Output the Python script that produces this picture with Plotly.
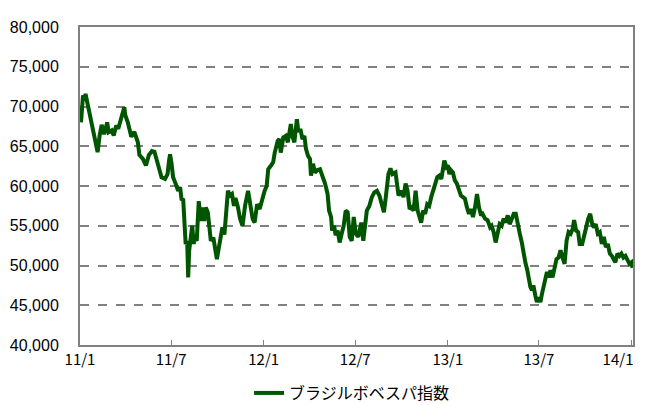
import plotly.graph_objects as go

series_name = "ブラジルボベスパ指数"

dates = [
    "2011-01-03", "2011-01-05", "2011-01-07", "2011-01-10", "2011-01-12", "2011-01-18", "2011-01-21", "2011-01-27",
    "2011-01-31", "2011-02-05", "2011-02-09", "2011-02-13", "2011-02-18", "2011-02-24", "2011-02-27", "2011-03-05",
    "2011-03-09", "2011-03-14", "2011-03-18", "2011-03-22", "2011-03-30", "2011-04-01", "2011-04-06", "2011-04-13",
    "2011-04-19", "2011-04-26", "2011-04-29", "2011-05-06", "2011-05-12", "2011-05-18", "2011-05-24", "2011-05-29",
    "2011-06-02", "2011-06-05", "2011-06-08", "2011-06-12", "2011-06-19", "2011-06-24", "2011-06-27", "2011-06-29",
    "2011-07-02", "2011-07-05", "2011-07-10", "2011-07-15", "2011-07-19", "2011-07-22", "2011-07-25", "2011-07-28",
    "2011-07-30", "2011-08-02", "2011-08-04", "2011-08-06", "2011-08-09", "2011-08-12", "2011-08-15", "2011-08-17",
    "2011-08-21", "2011-08-25", "2011-08-29", "2011-09-01", "2011-09-05", "2011-09-08", "2011-09-12", "2011-09-15",
    "2011-09-18", "2011-09-23", "2011-09-26", "2011-09-30", "2011-10-03", "2011-10-07", "2011-10-11", "2011-10-15",
    "2011-10-18", "2011-10-22", "2011-10-26", "2011-10-30", "2011-11-03", "2011-11-06", "2011-11-11", "2011-11-15",
    "2011-11-20", "2011-11-25", "2011-12-01", "2011-12-05", "2011-12-10", "2011-12-14", "2011-12-19", "2011-12-24",
    "2011-12-29", "2012-01-03", "2012-01-07", "2012-01-10", "2012-01-16", "2012-01-20", "2012-01-23", "2012-01-29",
    "2012-02-01", "2012-02-04", "2012-02-09", "2012-02-14", "2012-02-18", "2012-02-21", "2012-02-24", "2012-02-27",
    "2012-03-02", "2012-03-07", "2012-03-10", "2012-03-14", "2012-03-18", "2012-03-22", "2012-03-25", "2012-03-29",
    "2012-04-02", "2012-04-04", "2012-04-08", "2012-04-12", "2012-04-17", "2012-04-22", "2012-04-26", "2012-05-02",
    "2012-05-07", "2012-05-10", "2012-05-14", "2012-05-16", "2012-05-20", "2012-05-23", "2012-05-27", "2012-05-31",
    "2012-06-04", "2012-06-08", "2012-06-12", "2012-06-16", "2012-06-20", "2012-06-24", "2012-06-28", "2012-07-02",
    "2012-07-07", "2012-07-13", "2012-07-17", "2012-07-21", "2012-07-24", "2012-07-29", "2012-08-03", "2012-08-08",
    "2012-08-13", "2012-08-18", "2012-08-22", "2012-08-27", "2012-08-30", "2012-09-02", "2012-09-05", "2012-09-09",
    "2012-09-13", "2012-09-19", "2012-09-22", "2012-09-25", "2012-09-30", "2012-10-05", "2012-10-09", "2012-10-13",
    "2012-10-17", "2012-10-21", "2012-10-25", "2012-10-29", "2012-11-02", "2012-11-06", "2012-11-09", "2012-11-13",
    "2012-11-17", "2012-11-21", "2012-11-25", "2012-11-29", "2012-12-03", "2012-12-07", "2012-12-11", "2012-12-15",
    "2012-12-19", "2012-12-22", "2012-12-25", "2012-12-29", "2013-01-01", "2013-01-04", "2013-01-07", "2013-01-11",
    "2013-01-15", "2013-01-19", "2013-01-23", "2013-01-27", "2013-01-31", "2013-02-04", "2013-02-08", "2013-02-12",
    "2013-02-16", "2013-02-20", "2013-02-24", "2013-02-28", "2013-03-04", "2013-03-08", "2013-03-11", "2013-03-16",
    "2013-03-21", "2013-03-26", "2013-03-29", "2013-04-02", "2013-04-06", "2013-04-10", "2013-04-14", "2013-04-18",
    "2013-04-22", "2013-04-26", "2013-04-30", "2013-05-04", "2013-05-08", "2013-05-12", "2013-05-16", "2013-05-20",
    "2013-05-24", "2013-05-28", "2013-06-01", "2013-06-04", "2013-06-08", "2013-06-11", "2013-06-14", "2013-06-17",
    "2013-06-20", "2013-06-24", "2013-06-27", "2013-06-30", "2013-07-04", "2013-07-07", "2013-07-10", "2013-07-14",
    "2013-07-17", "2013-07-20", "2013-07-24", "2013-07-28", "2013-08-01", "2013-08-05", "2013-08-09", "2013-08-13",
    "2013-08-17", "2013-08-21", "2013-08-25", "2013-08-29", "2013-09-02", "2013-09-06", "2013-09-09", "2013-09-13",
    "2013-09-17", "2013-09-20", "2013-09-25", "2013-09-29", "2013-10-03", "2013-10-07", "2013-10-11", "2013-10-15",
    "2013-10-18", "2013-10-22", "2013-10-26", "2013-10-30", "2013-11-03", "2013-11-07", "2013-11-11", "2013-11-15",
    "2013-11-19", "2013-11-23", "2013-11-27", "2013-11-30", "2013-12-04", "2013-12-08", "2013-12-12", "2013-12-16",
    "2013-12-20", "2013-12-24", "2013-12-28", "2014-01-01", "2014-01-03",
]

bovespa = [
    68000, 70400, 71400, 70750, 71600, 69750, 68870, 67000,
    65800, 64250, 66350, 67700, 66500, 68000, 66770, 67000,
    66350, 67600, 67200, 68000, 69900, 68900, 68000, 66200,
    66800, 65500, 63900, 63400, 62600, 63900, 64400, 64300,
    63300, 63000, 62000, 61100, 60900, 61500, 63200, 64000,
    62800, 61100, 60300, 59400, 59850, 58200, 58400, 55600,
    52700, 53100, 48500, 51900, 53600, 55000, 52700, 53600,
    53100, 58100, 55600, 57300, 55600, 57300, 56700, 55200,
    53100, 53500, 51900, 50800, 51900, 53500, 54800, 53900,
    56000, 59400, 58800, 59000, 57500, 58500, 57300, 55900,
    55000, 57500, 59400, 57500, 55900, 55400, 57700, 57100,
    58400, 59400, 60000, 62100, 62600, 63000, 64200, 65700,
    65900, 64200, 66100, 66300, 65500, 67000, 67800, 66300,
    65500, 68400, 66800, 67200, 65900, 66300, 64700, 63800,
    63400, 61300, 62800, 61700, 62000, 62100, 61500, 60300,
    59000, 56900, 56100, 54400, 55000, 53800, 54400, 52900,
    54000, 55000, 56900, 56700, 53600, 53100, 56100, 54000,
    53600, 55400, 53100, 56100, 56900, 57500, 58600, 59200,
    59400, 58800, 58000, 56700, 58200, 60300, 61500, 62200,
    61500, 61700, 60300, 58800, 59400, 58600, 60300, 59400,
    57100, 57300, 56900, 59400, 56900, 56100, 55400, 56900,
    56500, 57700, 57500, 58600, 59400, 59900, 61100, 61300,
    60900, 62000, 63200, 62400, 62600, 61500, 62000, 61700,
    60700, 60300, 59600, 58800, 58600, 58400, 57300, 56500,
    57100, 56100, 57300, 59000, 57300, 56300, 56500, 55900,
    55700, 54800, 55000, 54200, 52900, 54000, 55200, 55000,
    55900, 55400, 56300, 55200, 55900, 56500, 56500, 55000,
    54000, 52900, 51000, 50400, 49400, 48300, 47300, 46900,
    47500, 46200, 45400, 46000, 45400, 46400, 47100, 48100,
    49200, 48500, 49400, 48500, 49600, 50800, 51000, 51900,
    51000, 50200, 53100, 54200, 54000, 54600, 55700, 54400,
    54200, 52700, 52700, 53600, 54800, 55900, 56500, 55200,
    54800, 55200, 54000, 54200, 52700, 53600, 52300, 52700,
    51500, 51200, 50600, 50400, 51500, 51200, 51500, 51000,
    51200, 50600, 50200, 50400, 49700,
]

tick_dates = ["2011-01-01", "2011-07-01", "2012-01-01", "2012-07-01", "2013-01-01", "2013-07-01", "2014-01-01"]
# trailing no-break spaces keep the last label inside the window, as in the reference
tick_labels = ["11/1", "11/7", "12/1", "12/7", "13/1", "13/7", "14/1" + "\u00a0" * 8]

fig = go.Figure()
fig.add_trace(go.Scatter(
    x=dates, y=bovespa, mode="lines", name=series_name,
    line=dict(color="#005500", width=4),
))

# the page body has an 8px margin; offsets compensate so the plot lands where the reference has it
fig.update_layout(
    width=646, height=397,
    margin=dict(l=72, r=21, t=19, b=60, autoexpand=False),
    paper_bgcolor="white", plot_bgcolor="white",
    showlegend=True,
    legend=dict(
        orientation="h", x=0.492, xanchor="center", y=-0.151, yanchor="middle",
        font=dict(family="Noto Sans CJK JP", size=16, color="#000000"),
    ),
)
fig.update_xaxes(
    type="date", range=["2011-01-01", "2014-01-04"],
    tickvals=tick_dates, ticktext=tick_labels,
    showgrid=False, ticks="inside", ticklen=5, tickwidth=1, tickcolor="#808080",
    showline=True, linecolor="#808080", linewidth=2, mirror=True,
    tickfont=dict(family="Noto Sans CJK JP", size=15, color="#000000"),
    ticklabeloverflow="allow",
    automargin=False,
)
fig.update_yaxes(
    range=[40000, 80000], dtick=5000, tickformat=",",
    showgrid=True, gridcolor="#808080", gridwidth=1.5, griddash="dash",
    showline=True, linecolor="#808080", linewidth=2, mirror=True,
    ticks="", ticklabelstandoff=16,
    tickfont=dict(family="Liberation Sans", size=16, color="#000000"),
    zeroline=False, automargin=False,
)

fig.write_html("out.html")
